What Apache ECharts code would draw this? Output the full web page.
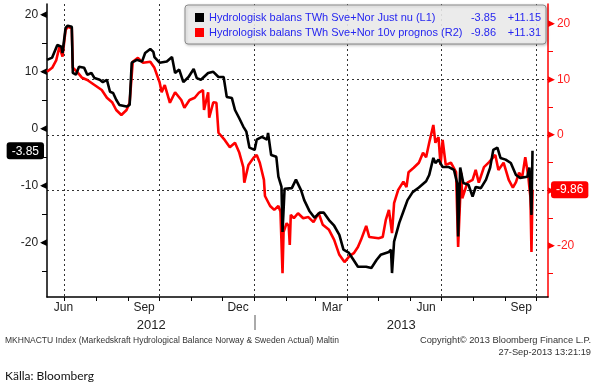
<!DOCTYPE html>
<html><head><meta charset="utf-8">
<script src="https://cdn.jsdelivr.net/npm/echarts@6/dist/echarts.min.js"></script>
<style>html,body{margin:0;padding:0;background:#fff}#c{width:596px;height:386px}</style>
</head><body><div id="c"></div>
<script>
// ---- data ----
const blackDates = ['2012-06-14','2012-06-19','2012-06-24','2012-06-28','2012-06-29','2012-07-02','2012-07-04','2012-07-08','2012-07-09','2012-07-12','2012-07-15','2012-07-20','2012-07-23','2012-07-27','2012-07-30','2012-08-04','2012-08-07','2012-08-11','2012-08-14','2012-08-17','2012-08-20','2012-08-23','2012-08-30','2012-09-02','2012-09-04','2012-09-09','2012-09-14','2012-09-17','2012-09-22','2012-09-25','2012-09-26','2012-10-01','2012-10-08','2012-10-13','2012-10-16','2012-10-20','2012-10-24','2012-10-29','2012-11-03','2012-11-06','2012-11-10','2012-11-17','2012-11-22','2012-11-27','2012-12-02','2012-12-05','2012-12-10','2012-12-13','2012-12-17','2012-12-21','2012-12-24','2012-12-27','2013-01-01','2013-01-03','2013-01-08','2013-01-13','2013-01-14','2013-01-17','2013-01-22','2013-01-24','2013-01-27','2013-01-28','2013-01-30','2013-02-06','2013-02-10','2013-02-15','2013-02-18','2013-02-23','2013-02-28','2013-03-05','2013-03-09','2013-03-14','2013-03-19','2013-03-24','2013-03-28','2013-04-02','2013-04-06','2013-04-11','2013-04-19','2013-04-24','2013-04-29','2013-05-03','2013-05-11','2013-05-13','2013-05-14','2013-05-16','2013-05-21','2013-05-25','2013-05-29','2013-06-03','2013-06-09','2013-06-16','2013-06-19','2013-06-23','2013-06-25','2013-06-28','2013-07-02','2013-07-08','2013-07-13','2013-07-16','2013-07-17','2013-07-19','2013-07-22','2013-07-27','2013-07-31','2013-08-03','2013-08-08','2013-08-13','2013-08-17','2013-08-20','2013-08-24','2013-08-27','2013-09-01','2013-09-06','2013-09-11','2013-09-15','2013-09-22','2013-09-24','2013-09-25','2013-09-26','2013-09-27'];
const blackValues = [12.1,12.5,14.7,14.4,13.3,17.7,18.1,17.9,9.8,9.5,10.9,10.7,9.5,9.8,8.9,8.6,8.2,8.6,6.5,6.3,5.1,4.2,3.9,4.2,11.6,12.1,11.8,13.3,14.0,13.5,12.6,11.6,11.8,12.6,9.8,10.4,8.2,9.1,10.5,8.9,8.6,9.8,10.0,9.1,9.1,5.6,5.4,3.3,1.9,0.4,-0.5,-3.3,-3.7,-1.9,-1.4,-1.9,-0.7,-4.6,-4.9,-8.4,-10.2,-18.1,-10.5,-10.4,-8.9,-10.8,-12.5,-14.4,-15.6,-14.7,-14.7,-16.0,-17.0,-18.6,-21.2,-21.7,-22.8,-24.2,-24.2,-24.4,-23.0,-22.1,-21.6,-21.2,-25.3,-19.8,-16.5,-14.5,-12.5,-11.1,-10.3,-9.2,-8.1,-5.1,-6.0,-5.4,-6.7,-6.7,-7.2,-9.5,-18.9,-6.8,-9.5,-9.8,-11.9,-10.2,-10.4,-8.9,-6.8,-3.7,-3.3,-5.1,-5.4,-6.0,-8.1,-8.6,-8.4,-6.8,-6.8,-15.1,-3.85];

const redDates = ['2012-06-14','2012-06-19','2012-06-23','2012-06-26','2012-06-29','2012-07-02','2012-07-04','2012-07-08','2012-07-09','2012-07-13','2012-07-18','2012-07-23','2012-07-30','2012-08-06','2012-08-11','2012-08-16','2012-08-20','2012-08-25','2012-08-30','2012-09-02','2012-09-05','2012-09-10','2012-09-15','2012-09-22','2012-09-26','2012-10-01','2012-10-03','2012-10-06','2012-10-11','2012-10-16','2012-10-22','2012-10-25','2012-10-30','2012-11-04','2012-11-08','2012-11-12','2012-11-13','2012-11-17','2012-11-18','2012-11-22','2012-11-25','2012-11-27','2012-12-03','2012-12-08','2012-12-13','2012-12-17','2012-12-21','2012-12-22','2012-12-26','2012-12-31','2013-01-03','2013-01-06','2013-01-10','2013-01-11','2013-01-16','2013-01-20','2013-01-24','2013-01-26','2013-01-28','2013-01-29','2013-02-01','2013-02-03','2013-02-04','2013-02-05','2013-02-08','2013-02-12','2013-02-17','2013-02-22','2013-02-27','2013-03-04','2013-03-08','2013-03-14','2013-03-19','2013-03-24','2013-03-29','2013-04-03','2013-04-07','2013-04-11','2013-04-14','2013-04-19','2013-04-22','2013-05-01','2013-05-05','2013-05-08','2013-05-11','2013-05-14','2013-05-16','2013-05-20','2013-05-25','2013-05-28','2013-05-30','2013-06-04','2013-06-09','2013-06-13','2013-06-16','2013-06-19','2013-06-23','2013-06-25','2013-06-28','2013-06-30','2013-07-02','2013-07-05','2013-07-10','2013-07-15','2013-07-17','2013-07-20','2013-07-21','2013-07-26','2013-07-31','2013-08-03','2013-08-06','2013-08-11','2013-08-16','2013-08-22','2013-08-25','2013-08-30','2013-09-04','2013-09-08','2013-09-11','2013-09-14','2013-09-17','2013-09-20','2013-09-23','2013-09-24','2013-09-25','2013-09-26','2013-09-27'];
const redValues = [11.4,12.1,13.5,15.9,14.1,18.9,19.5,19.2,12.1,11.4,10.3,9.9,9.0,8.1,6.7,5.9,4.5,3.6,4.5,5.8,13.2,13.9,13.0,13.2,12.1,9.5,7.7,9.0,5.8,7.7,6.3,4.9,6.3,6.7,7.6,8.1,4.5,7.7,3.1,5.9,5.8,0.4,-0.9,-2.2,-1.4,-3.1,-5.8,-8.6,-5.4,-4.1,-3.6,-5.0,-8.1,-11.0,-12.8,-13.5,-12.8,-13.8,-24.9,-17.5,-15.9,-16.4,-19.8,-14.4,-15.0,-14.1,-15.0,-14.8,-15.7,-14.1,-16.2,-17.1,-18.9,-21.6,-22.9,-21.8,-21.3,-20.2,-18.9,-16.4,-18.4,-18.6,-18.4,-15.3,-13.5,-17.7,-12.3,-9.9,-8.4,-9.4,-6.7,-5.9,-5.0,-3.2,-4.0,-1.4,1.8,-1.4,-0.4,-5.4,-0.9,-5.4,-5.0,-6.7,-20.2,-6.8,-11.4,-8.6,-8.1,-6.3,-8.6,-5.8,-4.9,-3.6,-6.3,-5.0,-8.1,-9.5,-8.5,-6.8,-7.6,-4.0,-7.6,-9.5,-11.2,-21.1,-9.86];

const seriesNames = ['Hydrologisk balans TWh Sve+Nor Just nu (L1)', 'Hydrologisk balans TWh Sve+Nor 10v prognos (R2)'];
const lastValues = ['-3.85', '-9.86'];
const changeValues = ['+11.15', '+11.31'];
const axisLabelValues = [-20, -10, 0, 10, 20];
const axisTickValues = [-25, -20, -15, -10, -5, 0, 5, 10, 15, 20];
const monthLabels = {'2012-06-30':'Jun','2012-09-16':'Sep','2012-12-16':'Dec','2013-03-17':'Mar','2013-06-16':'Jun','2013-09-16':'Sep'};
const yearLabels = {'2012-09-23':'2012','2013-05-23':'2013'};
const quarterStarts = ['2012-07-01','2012-10-01','2013-01-01','2013-04-01','2013-07-01','2013-10-01'];
const xStart = [2012, 5, 14], xEnd = [2013, 9, 12];

// daily category axis
const days = [];
for (let t = Date.UTC(...xStart); t <= Date.UTC(...xEnd); t += 86400000) days.push(new Date(t).toISOString().slice(0, 10));

const F = '"Liberation Sans", Arial, sans-serif';
const chart = echarts.init(document.getElementById('c'), null, {renderer: 'canvas'});
chart.setOption({
  animation: false,
  backgroundColor: '#fff',
  grid: {left: 47, right: 48, top: 4, bottom: 89, containLabel: false},
  legend: {
    left: 185, top: 5, orient: 'vertical', itemWidth: 9, itemHeight: 9, itemGap: 2, icon: 'rect',
    data: seriesNames, padding: [6, 5, 5, 10],
    backgroundColor: 'rgba(240,240,240,0.88)', borderColor: '#8a8a8a', borderWidth: 1, borderRadius: 3,
    shadowColor: 'rgba(0,0,0,0.25)', shadowBlur: 3, shadowOffsetX: 1, shadowOffsetY: 1,
    selectedMode: false,
    formatter: n => { const i = seriesNames.indexOf(n); return `{n|${n}}{a|${lastValues[i]}}{b|${changeValues[i]}}`; },
    textStyle: {color: '#2626f0', fontFamily: F, fontSize: 11, lineHeight: 13,
      rich: {n: {width: 242, color: '#2626f0', fontFamily: F, fontSize: 11},
             a: {width: 45, align: 'right', color: '#2626f0', fontFamily: F, fontSize: 11},
             b: {width: 45, align: 'right', color: '#2626f0', fontFamily: F, fontSize: 11}}}
  },
  xAxis: [{
    type: 'category', data: days, boundaryGap: false, position: 'bottom',
    axisLine: {onZero: false, lineStyle: {color: '#000', width: 1.5}},
    axisTick: {interval: (i, v) => v.slice(8) === '01', length: 4, lineStyle: {color: '#000'}},
    axisLabel: {interval: (i, v) => !!monthLabels[v], formatter: v => monthLabels[v] || '', color: '#222', fontFamily: F, fontSize: 12, margin: 5},
    splitLine: {show: true, interval: (i, v) => quarterStarts.includes(v), lineStyle: {type: [2, 3], color: '#333', width: 1}}
  }, {
    type: 'category', data: days, boundaryGap: false, position: 'bottom', offset: 18,
    axisLine: {show: false, onZero: false},
    axisTick: {show: true, interval: (i, v) => v === '2013-01-01', length: 15, lineStyle: {color: '#aaa', width: 2}},
    axisLabel: {interval: (i, v) => !!yearLabels[v], formatter: v => yearLabels[v] || '', color: '#222', fontFamily: F, fontSize: 13, margin: 4},
    splitLine: {show: false}
  }],
  yAxis: [{
    type: 'value', position: 'left', min: -29.5, max: 21.9,
    axisLine: {show: true, onZero: false, lineStyle: {color: '#000', width: 1.5}},
    axisTick: {show: true, customValues: axisTickValues, length: 5, lineStyle: {color: '#000'}},
    axisLabel: {customValues: axisLabelValues, margin: 0, formatter: v => `{v|${v}}{t|◀}`,
      rich: {v: {color: '#222', fontFamily: F, fontSize: 12, padding: [0, 2, 0, 0]}, t: {color: '#000', fontSize: 9, fontFamily: 'DejaVu Sans'}}},
    splitLine: {show: false},
    axisPointer: {show: true, status: 'show', value: -3.85, type: 'line', triggerTooltip: false, lineStyle: {opacity: 0},
      label: {show: true, formatter: p => lastValues[0], backgroundColor: '#000', color: '#fff', fontFamily: F, fontSize: 12, padding: [3, 5, 2, 5], margin: 3}}
  }, {
    type: 'value', position: 'right', min: -29.2, max: 23.6,
    axisLine: {show: true, onZero: false, lineStyle: {color: '#ff0000', width: 1.5}},
    axisTick: {show: true, customValues: axisTickValues, length: 5, lineStyle: {color: '#ff0000'}},
    axisLabel: {customValues: axisLabelValues, margin: 0, formatter: v => `{t|▶}{v|${v}}`,
      rich: {v: {color: '#ff2020', fontFamily: F, fontSize: 12, padding: [0, 0, 0, 2]}, t: {color: '#ff0000', fontSize: 9, fontFamily: 'DejaVu Sans'}}},
    splitLine: {show: false},
    axisPointer: {show: true, status: 'show', value: -9.86, type: 'line', triggerTooltip: false, lineStyle: {opacity: 0},
      label: {show: true, formatter: p => lastValues[1], backgroundColor: '#ff0000', color: '#fff', fontFamily: F, fontSize: 12, padding: [3, 5, 2, 5], margin: 3}}
  }, {
    type: 'value', position: 'right', min: -29.2, max: 23.6,
    axisLine: {show: false},
    axisTick: {show: false, customValues: axisLabelValues},
    axisLabel: {show: false, customValues: axisLabelValues},
    splitLine: {show: true, showMinLine: false, showMaxLine: false, lineStyle: {type: [2, 3], color: '#333', width: 1}}
  }],
  series: [{
    name: seriesNames[0], type: 'line', xAxisIndex: 0, yAxisIndex: 0, z: 4,
    data: blackDates.map((d, i) => [d, blackValues[i]]),
    showSymbol: false, symbol: 'none', lineStyle: {color: '#000', width: 2.6}, itemStyle: {color: '#000'}
  }, {
    name: seriesNames[1], type: 'line', xAxisIndex: 0, yAxisIndex: 1, z: 3,
    data: redDates.map((d, i) => [d, redValues[i]]),
    showSymbol: false, symbol: 'none', lineStyle: {color: '#ff0000', width: 2.6}, itemStyle: {color: '#ff0000'}
  }],
  graphic: [
    {type: 'text', left: 5, top: 336, style: {text: 'MKHNACTU Index (Markedskraft Hydrological Balance Norway & Sweden Actual) Maltin', font: '8.5px "Liberation Sans", Arial', fill: '#333'}},
    {type: 'text', right: 5, top: 336, style: {text: 'Copyright© 2013 Bloomberg Finance L.P.', font: '9.3px "Liberation Sans", Arial', fill: '#333'}},
    {type: 'text', right: 5, top: 348, style: {text: '27-Sep-2013 13:21:19', font: '9.3px "Liberation Sans", Arial', fill: '#333'}},
    {type: 'text', left: 5, top: 370, style: {text: 'Källa: Bloomberg', font: '12px "Liberation Sans Narrow", Lato, sans-serif', fill: '#111'}}
  ]
});
</script></body></html>
